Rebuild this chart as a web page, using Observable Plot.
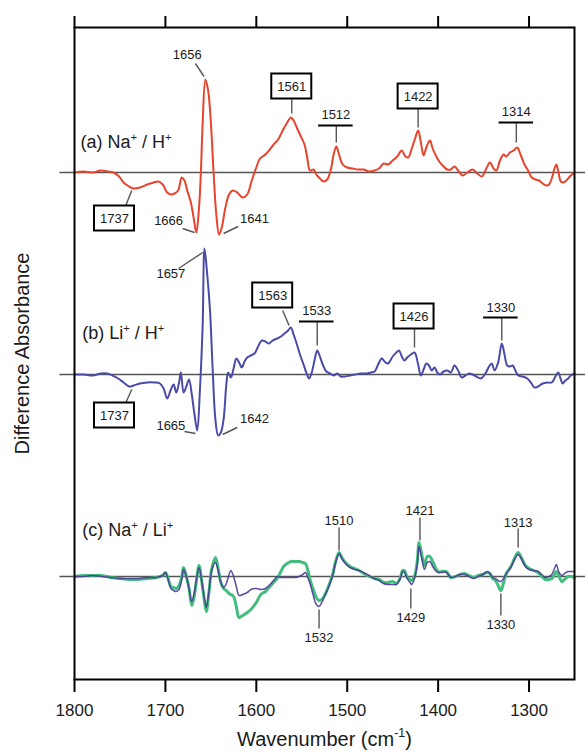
<!DOCTYPE html>
<html>
<head>
<meta charset="utf-8">
<script src="https://cdn.jsdelivr.net/npm/d3@7"></script>
<script src="https://cdn.jsdelivr.net/npm/@observablehq/plot@0.6"></script>
<style>
  html, body { margin: 0; padding: 0; background: #fff; }
  #chart svg { display: block; }
</style>
</head>
<body>
<div id="chart"></div>
<script>
// ---------- DATA ----------
// (a) Na+ / H+ difference spectrum
const wavenumberA = [1800,1790,1780,1771,1764,1757,1751,1746,1740,1735,
  1728,1720,1713,1708,1703,1698,1694,1690,1686,1682,
  1679,1676,1672,1669,1666,1663,1661,1659,1656,1653,
  1650,1647,1644,1641,1638,1634,1630,1626,1621,1615,
  1610,1605,1600,1596,1590,1586,1581,1576,1571,1566,
  1562,1559,1555,1551,1547,1544,1541,1537,1534,1530,
  1526,1522,1518,1515,1512,1509,1505,1500,1494,1488,
  1482,1476,1470,1465,1460,1455,1450,1445,1440,1436,
  1433,1429,1425,1422,1419,1416,1413,1409,1406,1402,
  1398,1394,1390,1386,1382,1378,1373,1368,1362,1357,
  1352,1347,1343,1339,1336,1332,1328,1325,1321,1317,
  1313,1309,1305,1301,1297,1293,1289,1285,1281,1278,
  1275,1272,1270,1268,1265,1262,1258,1254,1250];
const absorbanceA = [0,1,0,2,1,0,-4,-10,-14,-16,
  -15,-12,-10,-9,-12,-20,-22,-21,-18,-5,
  -8,-18,-30,-45,-60,-35,0,50,93,82,
  50,0,-42,-62,-55,-35,-22,-18,-20,-25,
  -22,-8,5,14,18,22,28,33,42,50,
  55,52,44,36,28,15,2,3,-2,-6,
  -9,-7,3,18,26,18,8,5,4,3,
  3,1,2,4,9,8,12,16,22,16,
  15,24,35,42,30,17,25,32,24,16,
  10,6,3,3,6,2,-3,0,3,-1,
  -4,4,10,4,2,12,18,16,20,22,
  25,17,8,2,-5,-7,-8,-11,-13,-12,
  -6,4,8,2,-9,-10,-7,-3,0];

// (b) Li+ / H+ difference spectrum
const wavenumberB = [1800,1790,1780,1771,1764,1758,1752,1746,1740,1735,
  1728,1720,1712,1706,1702,1698,1694,1691,1688,1685,
  1683,1680,1677,1674,1671,1668,1665,1662,1659,1657,
  1654,1651,1648,1645,1642,1639,1636,1633,1631,1628,
  1625,1622,1619,1616,1613,1610,1606,1602,1598,1594,
  1590,1586,1582,1577,1573,1569,1565,1562,1559,1556,
  1552,1548,1545,1542,1539,1536,1533,1530,1527,1523,
  1519,1515,1511,1507,1503,1497,1491,1485,1479,1474,
  1470,1466,1462,1458,1455,1450,1446,1443,1440,1437,
  1434,1430,1426,1422,1419,1416,1413,1410,1407,1404,
  1401,1398,1394,1390,1386,1382,1378,1374,1370,1366,
  1362,1358,1353,1348,1344,1341,1338,1334,1330,1327,
  1324,1321,1318,1315,1312,1307,1302,1298,1294,1290,
  1285,1280,1275,1271,1268,1265,1263,1260,1257,1254,
  1250];
const absorbanceB = [0,0,-1,1,1,-1,-4,-8,-12,-11,
  -9,-8,-8,-9,-14,-24,-15,-10,-18,-8,
  2,-18,-12,-5,-20,-40,-56,-15,50,126,
  100,65,5,-45,-61,-58,-45,-10,2,-3,
  6,16,12,7,13,17,19,21,28,34,
  33,31,34,36,38,41,44,47,40,32,
  20,10,2,-4,2,14,24,18,10,3,
  1,-1,1,-2,-2,-1,0,1,1,2,
  3,10,16,12,11,18,22,24,18,14,
  17,20,22,10,-1,5,11,9,4,7,
  2,0,3,4,2,9,4,-3,-1,1,
  0,-2,-4,1,8,11,4,12,31,20,
  9,8,9,4,-1,-2,-4,-8,-13,-12,
  -9,-8,-8,-2,2,-5,-9,-6,-4,-1,
  1];

// (c) Na+ / Li+ difference spectra (two traces)
const wavenumberC = [1800,1790,1780,1770,1760,1750,1740,1730,1720,1710,
  1703,1700,1697,1694,1691,1688,1685,1682,1680,1677,
  1674,1671,1668,1666,1663,1660,1657,1655,1652,1649,
  1645,1642,1639,1636,1633,1630,1628,1625,1622,1619,
  1615,1610,1606,1600,1595,1590,1585,1580,1577,1573,
  1570,1566,1562,1557,1553,1549,1546,1543,1540,1537,
  1534,1531,1528,1525,1522,1519,1516,1513,1509,1506,
  1502,1497,1492,1487,1482,1476,1470,1465,1460,1455,
  1450,1446,1442,1439,1437,1434,1431,1429,1426,1423,
  1421,1418,1415,1412,1409,1406,1403,1400,1396,1391,
  1386,1381,1376,1371,1366,1361,1356,1351,1346,1343,
  1340,1337,1334,1331,1328,1325,1320,1316,1312,1308,
  1304,1300,1295,1290,1286,1282,1278,1275,1272,1270,
  1267,1264,1261,1257,1254,1250];
const absorbanceCGreen = [0,1,1,1,-1,-2,-3,-3,-2,-1,
  1,4,-2,-10,-11,-12,-9,0,9,0,
  -12,-29,-18,-5,11,-5,-25,-35,-15,8,
  19,8,-6,-12,-14,-17,-18,-20,-30,-41,
  -39,-36,-33,-26,-18,-15,-10,-5,-2,5,
  10,13,15,15,15,14,13,5,-6,-14,
  -21,-24,-23,-19,-13,-6,2,14,24,19,
  14,10,8,6,3,0,-2,-3,-6,-6,
  -5,-7,-2,6,6,-1,-3,-4,0,15,
  34,22,11,20,20,15,9,5,5,5,
  -1,0,2,3,1,-1,1,2,4,3,
  -2,-4,-9,-14,-6,3,10,18,24,18,
  11,8,6,4,0,-3,-3,-2,2,5,
  0,-5,-3,0,0,-1];
const absorbanceCPurple = [0,0,1,0,-1,-2,-2,-2,-1,-1,
  1,4,-3,-12,-14,-15,-13,-3,7,0,
  -12,-25,-15,-4,9,-5,-22,-31,-14,6,
  14,6,-6,-11,-7,2,6,0,-10,-19,
  -18,-16,-13,-12,-13,-12,-8,-3,0,-1,
  -1,-1,-1,-1,0,2,4,-2,-10,-20,
  -28,-30,-26,-20,-14,-7,1,13,23,18,
  13,9,7,6,4,1,-2,-4,-7,-8,
  -8,-8,-3,5,4,-2,-6,-8,-2,12,
  30,18,7,14,15,10,6,4,4,4,
  -1,0,2,2,0,-2,0,2,5,3,
  -1,-2,-4,-5,-2,3,9,17,22,17,
  10,7,6,5,2,-1,0,2,8,12,
  4,1,3,5,5,5];

// Panel labels and axis texts
const panelNames = ["a", "b", "c"];
const panelTitles = ["(a) Na^+ / H^+", "(b) Li^+ / H^+", "(c) Na^+ / Li^+"];
const xTicks = [1800, 1700, 1600, 1500, 1400, 1300];
const xTitle = "Wavenumber (cm^-1)";
const yTitle = "Difference Absorbance";

// Peak annotations (label, panel, style)
const peakLabels = ["1656","1561","1512","1422","1314","1737","1666","1641",
                    "1657","1563","1533","1426","1330","1737","1665","1642",
                    "1510","1421","1313","1532","1429","1330"];
const peakPanels = ["a","a","a","a","a","a","a","a",
                    "b","b","b","b","b","b","b","b",
                    "c","c","c","c","c","c"];
const peakStyles = ["plain","box","under","box","under","box","plain","plain",
                    "plain","box","under","box","under","box","plain","plain",
                    "plain","plain","plain","plain","plain","plain"];

// ---------- LAYOUT (annotation placement, in data units relative to panel zero) ----------
const offsets = {a: 404, b: 202, c: 0};
const labelPlacement = [
  {tx:1676, ty:118, lx1:1667, ly1:109, lx2:1657.5, ly2:96},
  {tx:1561, ty:86,  lx1:1561, ly1:74,  lx2:1561, ly2:59},
  {tx:1512.5, ty:58, uy:47, lx1:1512, ly1:47, lx2:1512, ly2:30},
  {tx:1422, ty:76,  lx1:1422, ly1:64,  lx2:1422, ly2:45},
  {tx:1314, ty:61,  uy:50, lx1:1314, ly1:50, lx2:1314, ly2:30},
  {tx:1756, ty:-46, lx1:1744, ly1:-34, lx2:1737, ly2:-18},
  {tx:1696.5, ty:-48, lx1:1681, ly1:-56, lx2:1668, ly2:-60},
  {tx:1602, ty:-46, lx1:1636, ly1:-61, lx2:1620, ly2:-54},

  {tx:1694, ty:101, lx1:1685.5, ly1:106, lx2:1659, ly2:122},
  {tx:1582, ty:79,  lx1:1571, ly1:64,  lx2:1564, ly2:49},
  {tx:1533.5, ty:64, uy:53, lx1:1533, ly1:53, lx2:1533, ly2:29},
  {tx:1426.5, ty:58, lx1:1426, ly1:46, lx2:1426, ly2:27},
  {tx:1331, ty:67, uy:57, lx1:1330, ly1:57, lx2:1330, ly2:34},
  {tx:1756, ty:-41, lx1:1744, ly1:-29, lx2:1737, ly2:-15},
  {tx:1694, ty:-51, lx1:1679, ly1:-57, lx2:1667, ly2:-59},
  {tx:1602, ty:-44, lx1:1637, ly1:-60, lx2:1621, ly2:-53},

  {tx:1509, ty:56, lx1:1509, ly1:49, lx2:1509, ly2:26},
  {tx:1420, ty:66, lx1:1420, ly1:59, lx2:1420, ly2:36},
  {tx:1312, ty:54, lx1:1312, ly1:48, lx2:1312, ly2:29},
  {tx:1531, ty:-61, lx1:1531, ly1:-33, lx2:1531, ly2:-52},
  {tx:1430, ty:-41, lx1:1430, ly1:-12, lx2:1430, ly2:-32},
  {tx:1331, ty:-48, lx1:1331, ly1:-17, lx2:1331, ly2:-39}
];
const titlePlacement = [{tx:1793.5, ty:30}, {tx:1791.5, ty:41}, {tx:1791.5, ty:46}];

// ---------- BUILD ----------
const mk = (ws, vs, panel) => ws.map((w, i) => ({x: w, y: vs[i] + offsets[panel]}));
const seriesA = mk(wavenumberA, absorbanceA, "a");
const seriesB = mk(wavenumberB, absorbanceB, "b");
const seriesCGreen = mk(wavenumberC, absorbanceCGreen, "c");
const seriesCPurple = mk(wavenumberC, absorbanceCPurple, "c");

const annos = peakLabels.map((label, i) => ({
  label, panel: peakPanels[i], style: peakStyles[i], ...labelPlacement[i],
  off: offsets[peakPanels[i]]
}));
const titles = panelNames.map((p, i) => ({text: panelTitles[i], x: titlePlacement[i].tx, y: titlePlacement[i].ty + offsets[p]}));

const font = "'Liberation Sans', Arial, Helvetica, sans-serif";
const boxHalfW = 22, boxHalfH = 12.5, underHalfW = 19;

const chart = Plot.plot({
  width: 585,
  height: 756,
  marginLeft: 74,
  marginRight: 11,
  marginTop: 27,
  marginBottom: 77,
  style: {fontFamily: font, background: "white", color: "black"},
  x: {domain: [1800, 1250], axis: null},
  y: {domain: [-103, 549], axis: null},
  marks: [
    Plot.ruleY(panelNames.map(p => offsets[p]), {y: d => d, x1: () => 1816, x2: () => 1237, stroke: "#555", strokeWidth: 1.5}),
    Plot.line(seriesA, {x: "x", y: "y", stroke: "#e8432c", strokeWidth: 2, curve: "catmull-rom"}),
    Plot.line(seriesB, {x: "x", y: "y", stroke: "#4a4ba8", strokeWidth: 2, curve: "catmull-rom"}),
    Plot.line(seriesCGreen, {x: "x", y: "y", stroke: "#41bd7d", strokeWidth: 3, curve: "catmull-rom"}),
    Plot.line(seriesCPurple, {x: "x", y: "y", stroke: "#4b3a98", strokeWidth: 1.5, curve: "catmull-rom", strokeOpacity: 0.9}),
    Plot.link(annos, {x1: "lx1", y1: d => d.ly1 + d.off, x2: "lx2", y2: d => d.ly2 + d.off, stroke: "#555", strokeWidth: 1.4}),
    Plot.rect(annos.filter(d => d.style === "box"), {
      x1: d => d.tx + boxHalfW, x2: d => d.tx - boxHalfW,
      y1: d => d.ty + d.off - boxHalfH, y2: d => d.ty + d.off + boxHalfH,
      fill: "white", stroke: "black", strokeWidth: 2
    }),
    Plot.ruleY(annos.filter(d => d.style === "under"), {
      y: d => d.uy + d.off, x1: d => d.tx + underHalfW, x2: d => d.tx - underHalfW,
      stroke: "black", strokeWidth: 2
    }),
    Plot.text(annos, {x: "tx", y: d => d.ty + d.off, text: "label", fontSize: 13, fill: "#1a1a1a"}),
    Plot.text(titles, {x: "x", y: "y", text: "text", textAnchor: "start", fontSize: 18, fill: "#1a1a1a", className: "suplabel"}),
    Plot.frame({stroke: "black", strokeWidth: 2}),
    Plot.axisX({anchor: "bottom", ticks: xTicks, tickSize: 13, tickPadding: 11, fontSize: 17, tickFormat: d => String(d), strokeWidth: 2, stroke: "black", fill: "#1a1a1a", label: null}),
    Plot.axisX({anchor: "top", ticks: xTicks, tickSize: 12, tickFormat: () => "", strokeWidth: 2, stroke: "black", label: null}),
    Plot.text([yTitle], {text: d => d, frameAnchor: "left", rotate: -90, dx: -52, fontSize: 20, textAnchor: "middle", fill: "#1a1a1a"}),
    Plot.text([xTitle], {text: d => d, frameAnchor: "bottom", dy: 66, fontSize: 20, textAnchor: "middle", fill: "#1a1a1a", className: "suplabel"})
  ]
});

document.getElementById("chart").appendChild(chart);

// Render "^x" segments as superscripts
d3.select(chart).selectAll(".suplabel text").each(function () {
  const t = d3.select(this);
  const s = t.text();
  if (!s.includes("^")) return;
  const fs = parseFloat(getComputedStyle(this).fontSize) || 18;
  const shift = 0.42 * fs;
  t.text(null);
  let raised = false;
  s.split(/(\^[^\s)]+)/).forEach(p => {
    if (!p) return;
    if (p.startsWith("^")) {
      t.append("tspan").attr("dy", raised ? 0 : -shift).attr("font-size", (0.62 * fs) + "px").text(p.slice(1));
      raised = true;
    } else {
      const ts = t.append("tspan").text(p);
      if (raised) { ts.attr("dy", shift); raised = false; }
    }
  });
});
</script>
</body>
</html>
